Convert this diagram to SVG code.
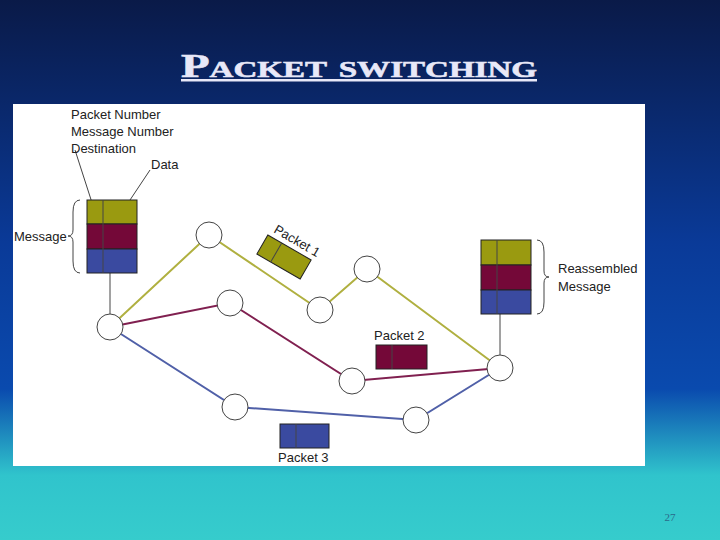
<svg xmlns="http://www.w3.org/2000/svg" width="720" height="540" viewBox="0 0 720 540">
<defs>
<linearGradient id="bg" x1="0" y1="0" x2="0" y2="1">
<stop offset="0" stop-color="#0a1a48"/>
<stop offset="0.45" stop-color="#0a3a98"/>
<stop offset="0.72" stop-color="#0a4aae"/>
<stop offset="0.88" stop-color="#30c4cc"/>
<stop offset="1" stop-color="#36cccc"/>
</linearGradient>
</defs>
<style>
.lbl{font-family:"Liberation Sans",Arial,sans-serif;font-size:13px;fill:#222}
.node{fill:#fff;stroke:#444;stroke-width:1}
.ol{fill:#9a9a10;stroke:#222;stroke-width:1}
.mr{fill:#740838;stroke:#222;stroke-width:1}
.bl{fill:#3a4aa0;stroke:#222;stroke-width:1}
.lo{stroke:#b0b040;stroke-width:2;fill:none}
.lm{stroke:#802050;stroke-width:2;fill:none}
.lb{stroke:#5060a8;stroke-width:2;fill:none}
.k{stroke:#444;stroke-width:1;fill:none}
</style>
<rect width="720" height="540" fill="url(#bg)"/>
<text x="359" y="77" text-anchor="middle" font-family="Liberation Serif,serif" font-weight="bold" font-size="34" font-variant="small-caps" fill="#e8e8f8" stroke="#e8e8f8" stroke-width="0.6" textLength="356" lengthAdjust="spacingAndGlyphs">Packet switching</text>
<rect x="181" y="79" width="356" height="2.5" fill="#e8e8f8"/>
<rect x="13" y="104" width="632" height="362" fill="#fff"/>
<g id="connectors">
<path class="lo" d="M110,327 L209,235 L320,310 L367,269 L500,368"/>
<path class="lm" d="M110,327 L230,303 L352,381 L500,368"/>
<path class="lb" d="M110,327 L235,407 L416,420 L500,368"/>
<path class="k" d="M110,273 V314 M500,314 V355 M75,150 L95,212 M150,170 L122,212"/>
<path class="k" d="M80,200 Q73,200 73,212 V230 Q73,236 68,236 Q73,236 73,242 V261 Q73,273 80,273"/>
<path class="k" d="M537,240 Q544,240 544,252 V271 Q544,277 549,277 Q544,277 544,283 V302 Q544,314 537,314"/>
</g>
<g id="message">
<rect class="ol" x="87" y="200" width="50" height="24"/>
<rect class="mr" x="87" y="224" width="50" height="25"/>
<rect class="bl" x="87" y="249" width="50" height="24"/>
<path class="k" d="M103,200 V273" stroke="#222"/>
<text class="lbl" x="71" y="119">Packet Number</text>
<text class="lbl" x="71" y="136">Message Number</text>
<text class="lbl" x="71" y="153">Destination</text>
<text class="lbl" x="151" y="169">Data</text>
<text class="lbl" x="14" y="241">Message</text>
</g>
<g id="reassembled">
<rect class="ol" x="481" y="240" width="50" height="25"/>
<rect class="mr" x="481" y="265" width="50" height="25"/>
<rect class="bl" x="481" y="290" width="50" height="24"/>
<path class="k" d="M497,240 V314" stroke="#222"/>
<text class="lbl" x="558" y="273">Reassembled</text>
<text class="lbl" x="558" y="291">Message</text>
</g>
<g id="packet1">
<g transform="translate(284,257) rotate(30)">
<rect class="ol" x="-25" y="-11" width="50" height="22"/>
<path class="k" d="M-9,-11 V11" stroke="#222"/>
</g>
<text class="lbl" transform="translate(273,232) rotate(30)">Packet 1</text>
</g>
<g id="packet2">
<rect class="mr" x="376" y="345" width="51" height="24"/>
<path class="k" d="M392,345 V369" stroke="#222"/>
<text class="lbl" x="374" y="340">Packet 2</text>
</g>
<g id="packet3">
<rect class="bl" x="280" y="424" width="49" height="24"/>
<path class="k" d="M296,424 V448" stroke="#222"/>
<text class="lbl" x="278" y="462">Packet 3</text>
</g>
<g id="nodes">
<circle class="node" cx="110" cy="327" r="13"/>
<circle class="node" cx="209" cy="235" r="13"/>
<circle class="node" cx="230" cy="303" r="13"/>
<circle class="node" cx="320" cy="310" r="13"/>
<circle class="node" cx="367" cy="269" r="13"/>
<circle class="node" cx="352" cy="381" r="13"/>
<circle class="node" cx="500" cy="368" r="13"/>
<circle class="node" cx="235" cy="407" r="13"/>
<circle class="node" cx="416" cy="420" r="13"/>
</g>
<text x="670" y="521" text-anchor="middle" font-family="Liberation Serif,serif" font-size="11" fill="#2a6a8a">27</text>
</svg>
